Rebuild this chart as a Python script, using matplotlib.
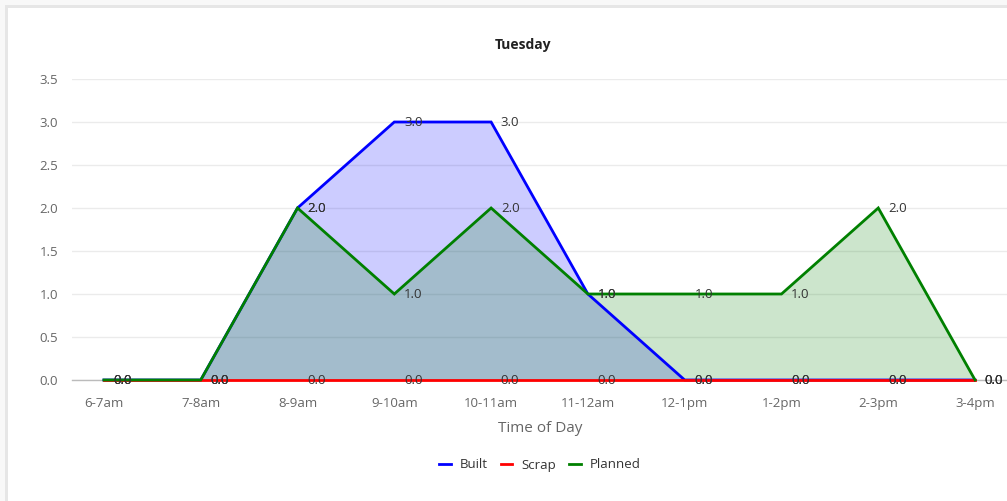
import matplotlib
matplotlib.use("Agg")
import matplotlib.pyplot as plt
from matplotlib.patches import Rectangle
from matplotlib.lines import Line2D

categories = ["6-7am", "7-8am", "8-9am", "9-10am", "10-11am", "11-12am",
              "12-1pm", "1-2pm", "2-3pm", "3-4pm"]
built = [0, 0, 2, 3, 3, 1, 0, 0, 0, 0]
scrap = [0, 0, 0, 0, 0, 0, 0, 0, 0, 0]
planned = [0, 0, 2, 1, 2, 1, 1, 1, 2, 0]
yticks = [0.0, 0.5, 1.0, 1.5, 2.0, 2.5, 3.0, 3.5]

plt.rcParams['font.family'] = ['Open Sans', 'DejaVu Sans']

W, H = 1007, 501
fig = plt.figure(figsize=(W / 100, H / 100), dpi=100)
fig.patch.set_facecolor('#f8f8f8')

# white card with light gray border
fig.add_artist(Rectangle((5 / W, -0.1), 1.2, (H - 5) / H + 0.1,
                         transform=fig.transFigure, facecolor='#e6e6e6',
                         edgecolor='none', zorder=-20))
fig.add_artist(Rectangle((8 / W, -0.1), 1.2, (H - 8) / H + 0.1,
                         transform=fig.transFigure, facecolor='white',
                         edgecolor='none', zorder=-19))

left = 72 / W
bottom = (H - 380) / H
top = (H - 79) / H
ax = fig.add_axes([left, bottom, 1.0 - left, top - bottom])
ax.set_zorder(5)
ax.set_facecolor('none')

x = list(range(len(categories)))
series = [("Built", built, '#0000ff', '#0000ff'),
          ("Scrap", scrap, '#ff0000', None),
          ("Planned", planned, '#008000', '#008000')]

for i, (name, vals, col, fcol) in enumerate(series):
    if fcol is not None:
        ax.fill_between(x, 0, vals, color=fcol, alpha=0.2, linewidth=0, zorder=2)
for i, (name, vals, col, fcol) in enumerate(series):
    ax.plot(x, vals, color=col, linewidth=2, zorder=3 + i,
            solid_joinstyle='miter', clip_on=False)
for name, vals, col, fcol in series:
    for xi, v in zip(x, vals):
        ax.annotate(f"{v:.1f}", (xi, v), xytext=(7, 0), textcoords='offset points',
                    ha='left', va='center', fontsize=9.5, color='#333333',
                    zorder=10, annotation_clip=False)

ax.set_xlim(-0.33, 9.33)
ax.set_ylim(0, 3.5)
ax.set_yticks(yticks)
ax.set_yticklabels([f"{t:.1f}" for t in yticks])
ax.set_xticks(x)
ax.set_xticklabels(categories)
ax.tick_params(axis='both', length=0, labelsize=9.5, labelcolor='#666666')
ax.tick_params(axis='y', pad=10)
ax.tick_params(axis='x', pad=12)
ax.grid(axis='y', color='#ebebeb', linewidth=1, zorder=0)
ax.set_axisbelow(True)
for s in ['top', 'right', 'left']:
    ax.spines[s].set_visible(False)
ax.spines['bottom'].set_color('#bbbbbb')
ax.spines['bottom'].set_linewidth(1)
ax.spines['bottom'].set_zorder(1)

fig.text(523 / W, (H - 45) / H, "Tuesday", ha='center', va='center',
         fontsize=10, fontweight='bold', color='#222222')
fig.text(540 / W, (H - 429) / H, "Time of Day", ha='center', va='center',
         fontsize=11, color='#666666')

handles = [Line2D([0], [0], color=c, linewidth=2) for _, _, c, _ in series]
fig.legend(handles, [s[0] for s in series], loc='center',
           bbox_to_anchor=(540 / W, (H - 465) / H), ncol=3, frameon=False,
           fontsize=9.5, handlelength=0.85, handletextpad=0.7, columnspacing=1.0,
           labelcolor='#333333')

fig.savefig("out.png", dpi=100, facecolor=fig.get_facecolor())
